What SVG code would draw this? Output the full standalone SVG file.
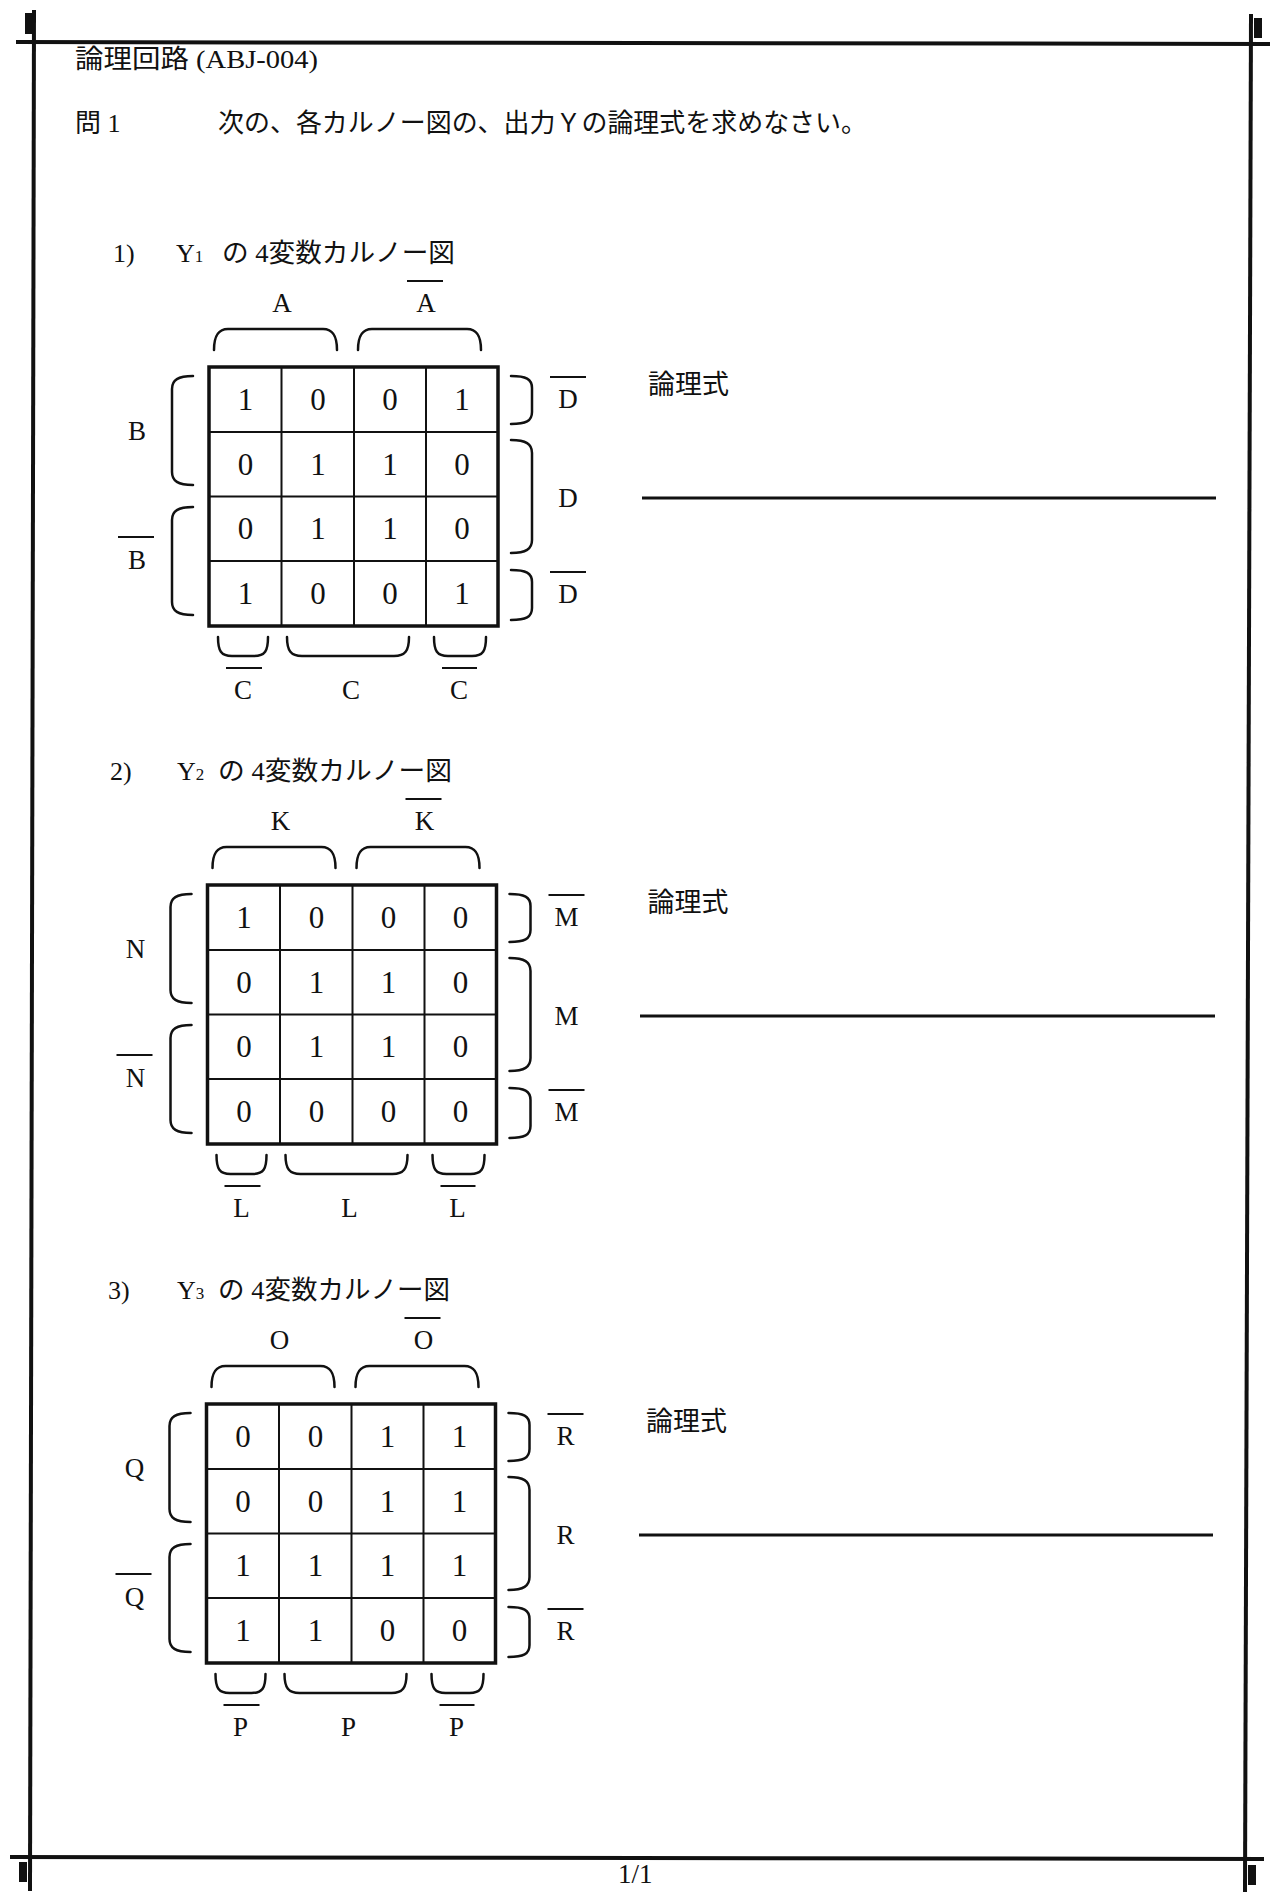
<svg xmlns="http://www.w3.org/2000/svg" width="1280" height="1898" viewBox="0 0 1280 1898">
<style>
.jp{font-family:"Liberation Serif","Noto Sans CJK JP",serif;fill:#111}
.lat{font-family:"Liberation Serif",serif;fill:#111}
.lbl{font-size:27px;text-anchor:middle}
.dig{font-size:31px;text-anchor:middle}
.br{fill:none;stroke:#111;stroke-width:2.5;stroke-linecap:round}
.ov{stroke:#111;stroke-width:2}
.outer{fill:none;stroke:#111;stroke-width:3.5}
.inner{stroke:#111;stroke-width:2}
.border{stroke:#111;stroke-width:4}
.ans{stroke:#111;stroke-width:3}
</style>
<defs>
<g id="frame">
<rect class="outer" x="209" y="367" width="289" height="259"/>
<line class="inner" x1="281.5" y1="367" x2="281.5" y2="626"/>
<line class="inner" x1="354" y1="367" x2="354" y2="626"/>
<line class="inner" x1="426" y1="367" x2="426" y2="626"/>
<line class="inner" x1="209" y1="432" x2="498" y2="432"/>
<line class="inner" x1="209" y1="496.5" x2="498" y2="496.5"/>
<line class="inner" x1="209" y1="561" x2="498" y2="561"/>
<!-- top braces -->
<path class="br" d="M214,350 C214,336 218,329 228,329 L323,329 C333,329 337,336 337,350"/>
<path class="br" d="M358,350 C358,336 362,329 372,329 L467,329 C477,329 481,336 481,350"/>
<!-- left braces -->
<path class="br" d="M193,376 C178,376 172,380 172,389 L172,472 C172,481 178,485 193,485"/>
<path class="br" d="M193,507 C178,507 172,511 172,520 L172,602 C172,611 178,615 193,615"/>
<!-- right braces -->
<path class="br" d="M511,376 C526,376 532,379 532,388 L532,412 C532,421 526,424 511,424"/>
<path class="br" d="M511,440 C526,440 532,444 532,453 L532,540 C532,549 526,553 511,553"/>
<path class="br" d="M511,570 C526,570 532,573 532,582 L532,608 C532,617 526,620 511,620"/>
<!-- bottom braces -->
<path class="br" d="M218,637 C218,651 221,656 232,656 L254,656 C265,656 268,651 268,637"/>
<path class="br" d="M287,637 C287,651 291,656 302,656 L394,656 C405,656 409,651 409,637"/>
<path class="br" d="M434,637 C434,651 437,656 448,656 L472,656 C483,656 486,651 486,637"/>
<!-- overlines -->
<line class="ov" x1="407" y1="281" x2="443" y2="281"/>
<line class="ov" x1="118" y1="537" x2="154" y2="537"/>
<line class="ov" x1="550" y1="377" x2="586" y2="377"/>
<line class="ov" x1="550" y1="572" x2="586" y2="572"/>
<line class="ov" x1="226" y1="668" x2="262" y2="668"/>
<line class="ov" x1="442" y1="668" x2="477" y2="668"/>
</g>
</defs>

<g id="page-border">
<line class="border" x1="34" y1="10" x2="30" y2="1891"/>
<line class="border" x1="1251" y1="14" x2="1245" y2="1892"/>
<line class="border" x1="16" y1="42" x2="1270" y2="44"/>
<line class="border" x1="10" y1="1857" x2="1264" y2="1859"/>
<rect x="25" y="13" width="8" height="21" fill="#111"/>
<rect x="1254" y="18" width="8" height="20" fill="#111"/>
<rect x="19" y="1862" width="8" height="20" fill="#111"/>
<rect x="1248" y="1865" width="8" height="20" fill="#111"/>
<text class="lat" x="618" y="1883" font-size="27">1/1</text>
</g>

<g id="header">
<text class="jp" x="75" y="68" font-size="26" textLength="243" lengthAdjust="spacingAndGlyphs">論理回路 (ABJ-004)</text>
<text class="jp" x="75" y="132" font-size="26">問 1</text>
<text class="jp" x="218" y="132" font-size="26" textLength="649" lengthAdjust="spacingAndGlyphs">次の、各カルノー図の、出力Ｙの論理式を求めなさい。</text>
</g>

<g id="kmap1">
<text class="lat" x="113" y="262" font-size="26">1)</text>
<text class="lat" x="176" y="262" font-size="26">Y<tspan font-size="17">1</tspan></text>
<text class="jp" x="222" y="262" font-size="26" textLength="233" lengthAdjust="spacingAndGlyphs">の 4変数カルノー図</text>
<use href="#frame"/>
<g class="lat lbl">
<text x="282" y="312">A</text><text x="426" y="312">A</text>
<text x="137" y="440">B</text><text x="137" y="569">B</text>
<text x="568" y="408">D</text><text x="568" y="507">D</text><text x="568" y="603">D</text>
<text x="243" y="699">C</text><text x="351" y="699">C</text><text x="459" y="699">C</text>
</g>
<g class="lat dig">
<text x="245.5" y="410">1</text><text x="318" y="410">0</text><text x="390" y="410">0</text><text x="462" y="410">1</text>
<text x="245.5" y="474.5">0</text><text x="318" y="474.5">1</text><text x="390" y="474.5">1</text><text x="462" y="474.5">0</text>
<text x="245.5" y="539">0</text><text x="318" y="539">1</text><text x="390" y="539">1</text><text x="462" y="539">0</text>
<text x="245.5" y="604">1</text><text x="318" y="604">0</text><text x="390" y="604">0</text><text x="462" y="604">1</text>
</g>
<text class="jp" x="648" y="394" font-size="27">論理式</text>
<line class="ans" x1="642" y1="498" x2="1216" y2="498"/>
</g>

<g id="kmap2" transform="translate(-1.5,518)">
<text class="lat" x="111.5" y="262" font-size="26">2)</text>
<text class="lat" x="178.5" y="262" font-size="26">Y<tspan font-size="17">2</tspan></text>
<text class="jp" x="219.5" y="262" font-size="26" textLength="234" lengthAdjust="spacingAndGlyphs">の 4変数カルノー図</text>
<use href="#frame"/>
<g class="lat lbl">
<text x="282" y="312">K</text><text x="426" y="312">K</text>
<text x="137" y="440">N</text><text x="137" y="569">N</text>
<text x="568" y="408">M</text><text x="568" y="507">M</text><text x="568" y="603">M</text>
<text x="243" y="699">L</text><text x="351" y="699">L</text><text x="459" y="699">L</text>
</g>
<g class="lat dig">
<text x="245.5" y="410">1</text><text x="318" y="410">0</text><text x="390" y="410">0</text><text x="462" y="410">0</text>
<text x="245.5" y="474.5">0</text><text x="318" y="474.5">1</text><text x="390" y="474.5">1</text><text x="462" y="474.5">0</text>
<text x="245.5" y="539">0</text><text x="318" y="539">1</text><text x="390" y="539">1</text><text x="462" y="539">0</text>
<text x="245.5" y="604">0</text><text x="318" y="604">0</text><text x="390" y="604">0</text><text x="462" y="604">0</text>
</g>
<text class="jp" x="649" y="394" font-size="27">論理式</text>
<line class="ans" x1="641.5" y1="498" x2="1216.5" y2="498"/>
</g>

<g id="kmap3" transform="translate(-2.5,1037)">
<text class="lat" x="110.5" y="262" font-size="26">3)</text>
<text class="lat" x="179.5" y="262" font-size="26">Y<tspan font-size="17">3</tspan></text>
<text class="jp" x="220.5" y="262" font-size="26" textLength="232" lengthAdjust="spacingAndGlyphs">の 4変数カルノー図</text>
<use href="#frame"/>
<g class="lat lbl">
<text x="282" y="312">O</text><text x="426" y="312">O</text>
<text x="137" y="440">Q</text><text x="137" y="569">Q</text>
<text x="568" y="408">R</text><text x="568" y="507">R</text><text x="568" y="603">R</text>
<text x="243" y="699">P</text><text x="351" y="699">P</text><text x="459" y="699">P</text>
</g>
<g class="lat dig">
<text x="245.5" y="410">0</text><text x="318" y="410">0</text><text x="390" y="410">1</text><text x="462" y="410">1</text>
<text x="245.5" y="474.5">0</text><text x="318" y="474.5">0</text><text x="390" y="474.5">1</text><text x="462" y="474.5">1</text>
<text x="245.5" y="539">1</text><text x="318" y="539">1</text><text x="390" y="539">1</text><text x="462" y="539">1</text>
<text x="245.5" y="604">1</text><text x="318" y="604">1</text><text x="390" y="604">0</text><text x="462" y="604">0</text>
</g>
<text class="jp" x="648.5" y="394" font-size="27">論理式</text>
<line class="ans" x1="641.5" y1="498" x2="1215.5" y2="498"/>
</g>
</svg>
